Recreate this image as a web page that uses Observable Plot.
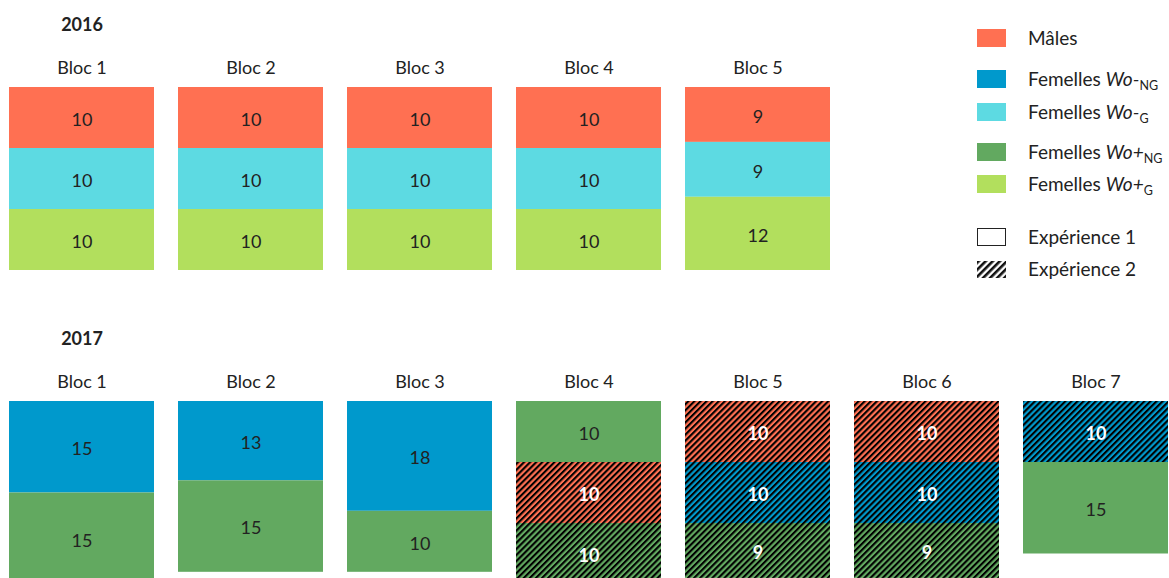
<!DOCTYPE html>
<html>
<head>
<meta charset="utf-8">
<script src="https://cdn.jsdelivr.net/npm/d3@7"></script>
<script src="https://cdn.jsdelivr.net/npm/@observablehq/plot@0.6"></script>
<style>
  html, body { margin: 0; padding: 0; background: #fff; overflow: hidden; }
  #wrap { position: relative; width: 1169px; height: 578px; font-family: Lato, "Noto Sans", sans-serif; color: #222; }
  .leg { position: absolute; left: 977px; height: 20px; display: flex; align-items: center; }
  .sw { width: 29px; height: 18px; box-sizing: border-box; }
  .lt { position: absolute; left: 51px; white-space: nowrap; font-size: 19px; line-height: 20px; }
  .lt i { font-style: italic; }
  .lt sub { font-size: 12.5px; vertical-align: -4px; line-height: 0; }
</style>
</head>
<body>
<svg width="0" height="0" style="position:absolute">
  <defs>
    <pattern id="hatch" patternUnits="userSpaceOnUse" width="4.3" height="4.3" patternTransform="rotate(45)">
      <rect x="0" y="0" width="2.1" height="4.3" fill="#000"></rect>
    </pattern>
    <pattern id="hatchL" patternUnits="userSpaceOnUse" width="5" height="5" patternTransform="rotate(45)">
      <rect x="0" y="0" width="2.6" height="5" fill="#111"></rect>
    </pattern>
  </defs>
</svg>
<div id="wrap"></div>
<script>
// ---- data ----
const years = ["2016", "2017"];
const blocs = ["Bloc 1", "Bloc 2", "Bloc 3", "Bloc 4", "Bloc 5", "Bloc 6", "Bloc 7"];
const categories = ["Mâles", "Femelles Wo-NG", "Femelles Wo-G", "Femelles Wo+NG", "Femelles Wo+G"];
const categoryColors = ["#FF7052", "#0099CC", "#5DDAE2", "#62A960", "#B2DF5D"];
const experiences = ["Expérience 1", "Expérience 2"];

// one entry per segment, listed from the top of each block to its bottom
const segYear = [
  "2016","2016","2016", "2016","2016","2016", "2016","2016","2016", "2016","2016","2016", "2016","2016","2016",
  "2017","2017", "2017","2017", "2017","2017", "2017","2017","2017", "2017","2017","2017", "2017","2017","2017", "2017","2017"
];
const segBloc = [
  "Bloc 1","Bloc 1","Bloc 1", "Bloc 2","Bloc 2","Bloc 2", "Bloc 3","Bloc 3","Bloc 3", "Bloc 4","Bloc 4","Bloc 4", "Bloc 5","Bloc 5","Bloc 5",
  "Bloc 1","Bloc 1", "Bloc 2","Bloc 2", "Bloc 3","Bloc 3", "Bloc 4","Bloc 4","Bloc 4", "Bloc 5","Bloc 5","Bloc 5", "Bloc 6","Bloc 6","Bloc 6", "Bloc 7","Bloc 7"
];
const segCategory = [
  "Mâles","Femelles Wo-G","Femelles Wo+G", "Mâles","Femelles Wo-G","Femelles Wo+G", "Mâles","Femelles Wo-G","Femelles Wo+G",
  "Mâles","Femelles Wo-G","Femelles Wo+G", "Mâles","Femelles Wo-G","Femelles Wo+G",
  "Femelles Wo-NG","Femelles Wo+NG", "Femelles Wo-NG","Femelles Wo+NG", "Femelles Wo-NG","Femelles Wo+NG",
  "Femelles Wo+NG","Mâles","Femelles Wo+NG", "Mâles","Femelles Wo-NG","Femelles Wo+NG",
  "Mâles","Femelles Wo-NG","Femelles Wo+NG", "Femelles Wo-NG","Femelles Wo+NG"
];
const segCount = [
  10,10,10, 10,10,10, 10,10,10, 10,10,10, 9,9,12,
  15,15, 13,15, 18,10, 10,10,10, 10,10,9, 10,10,9, 10,15
];
const segExperience = [
  "Expérience 1","Expérience 1","Expérience 1", "Expérience 1","Expérience 1","Expérience 1",
  "Expérience 1","Expérience 1","Expérience 1", "Expérience 1","Expérience 1","Expérience 1",
  "Expérience 1","Expérience 1","Expérience 1",
  "Expérience 1","Expérience 1", "Expérience 1","Expérience 1", "Expérience 1","Expérience 1",
  "Expérience 1","Expérience 2","Expérience 2", "Expérience 2","Expérience 2","Expérience 2",
  "Expérience 2","Expérience 2","Expérience 2", "Expérience 2","Expérience 1"
];

// ---- table built from the arrays ----
const segments = segYear.map((year, i) => ({
  year, bloc: segBloc[i], category: segCategory[i], count: segCount[i], experience: segExperience[i]
}));
const blocLabels = d3.groups(segments, d => d.year, d => d.bloc)
  .flatMap(([year, g]) => g.map(([bloc]) => ({year, bloc})));
const yearLabels = years.map(year => ({year, bloc: blocs[0]}));

const stackOpts = {x: "bloc", y: "count", fy: "year"};
const isExp2 = d => d.experience === experiences[1];

const chart = Plot.plot({
  width: 1169,
  height: 578,
  margin: 0,
  style: {fontFamily: "Lato, 'Noto Sans', sans-serif", background: "#fff"},
  x: {domain: blocs, range: [9, 1170], paddingInner: 0.14, paddingOuter: 0, align: 0, axis: null},
  y: {domain: [0, 30], range: [0, 183], axis: null},
  fy: {domain: years, range: [87, 585], paddingInner: 0.419, paddingOuter: 0, align: 0, axis: null},
  color: {domain: categories, range: categoryColors},
  marks: [
    Plot.barY(segments, Plot.stackY({...stackOpts, fill: "category"})),
    Plot.barY(segments, Plot.filter(isExp2, Plot.stackY({...stackOpts, fill: "url(#hatch)"}))),
    Plot.text(segments, Plot.filter(d => !isExp2(d), Plot.stackY({...stackOpts, text: "count", fill: "#222", fontSize: 18, dy: 2}))),
    Plot.text(segments, Plot.filter(isExp2, Plot.stackY({...stackOpts, text: "count", fill: "#fff", fontSize: 18, fontWeight: "bold", dy: 2}))),
    Plot.text(blocLabels, {x: "bloc", y: 0, fy: "year", text: "bloc", dy: -19, fontSize: 18, fill: "#222"}),
    Plot.text(yearLabels, {x: "bloc", y: 0, fy: "year", text: "year", dy: -62, fontSize: 18, fontWeight: "bold", fill: "#222"})
  ]
});

const wrap = document.getElementById("wrap");
wrap.appendChild(chart);

// ---- legend ----
const legendItems = [
  {top: 28, html: `<div class="sw" style="background:${categoryColors[0]}"></div>`, label: "Mâles"},
  {top: 69, html: `<div class="sw" style="background:${categoryColors[1]}"></div>`, label: "Femelles <i>Wo-</i><sub>NG</sub>"},
  {top: 102, html: `<div class="sw" style="background:${categoryColors[2]}"></div>`, label: "Femelles <i>Wo-</i><sub>G</sub>"},
  {top: 142, html: `<div class="sw" style="background:${categoryColors[3]}"></div>`, label: "Femelles <i>Wo+</i><sub>NG</sub>"},
  {top: 174, html: `<div class="sw" style="background:${categoryColors[4]}"></div>`, label: "Femelles <i>Wo+</i><sub>G</sub>"},
  {top: 227, html: `<div class="sw" style="border:1.6px solid #222;background:#fff"></div>`, label: experiences[0]},
  {top: 259, html: `<svg width="29" height="17"><rect width="29" height="17" fill="url(#hatchL)"></rect></svg>`, label: experiences[1]}
];
for (const it of legendItems) {
  const row = document.createElement("div");
  row.className = "leg";
  row.style.top = it.top + "px";
  row.innerHTML = it.html + `<span class="lt">${it.label}</span>`;
  wrap.appendChild(row);
}
chart.style.position = "absolute";
chart.style.left = "0";
chart.style.top = "0";
</script>
</body>
</html>
